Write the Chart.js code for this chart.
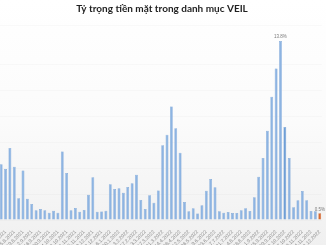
<!DOCTYPE html>
<html>
<head>
<meta charset="utf-8">
<script src="https://cdn.jsdelivr.net/npm/chart.js@4"></script>
<style>
  html, body { margin: 0; padding: 0; overflow: hidden; }
  body { width: 326px; height: 245px; background: linear-gradient(#ffffff 0%, #fbfbfb 50%, #f0f0f0 100%); }
  #wrap { position: absolute; left: -1px; top: 0; width: 326px; height: 245px; }
</style>
</head>
<body>
<div id="wrap"><canvas id="c" width="326" height="245"></canvas></div>
<script>
const title = 'Tỷ trọng tiền mặt trong danh mục VEIL';

const dates = [
  '15.7.2021', '22.7.2021', '29.7.2021', '5.8.2021', '12.8.2021', '19.8.2021', '26.8.2021', '2.9.2021',
  '9.9.2021', '16.9.2021', '23.9.2021', '30.9.2021', '7.10.2021', '14.10.2021', '21.10.2021', '28.10.2021',
  '4.11.2021', '11.11.2021', '18.11.2021', '25.11.2021', '2.12.2021', '9.12.2021', '16.12.2021', '23.12.2021',
  '30.12.2021', '6.1.2022', '13.1.2022', '20.1.2022', '27.1.2022', '3.2.2022', '10.2.2022', '17.2.2022',
  '24.2.2022', '3.3.2022', '10.3.2022', '17.3.2022', '24.3.2022', '31.3.2022', '7.4.2022', '14.4.2022',
  '21.4.2022', '28.4.2022', '5.5.2022', '12.5.2022', '19.5.2022', '26.5.2022', '2.6.2022', '9.6.2022',
  '16.6.2022', '23.6.2022', '30.6.2022', '7.7.2022', '14.7.2022', '21.7.2022', '28.7.2022', '4.8.2022',
  '11.8.2022', '18.8.2022', '25.8.2022', '1.9.2022', '8.9.2022', '15.9.2022', '22.9.2022', '29.9.2022',
  '6.10.2022', '13.10.2022', '20.10.2022', '27.10.2022', '3.11.2022', '10.11.2022', '17.11.2022', '24.11.2022',
  '1.12.2022', '8.12.2022'
];

// cash weight, % of portfolio
const cashPct = [
  4.29, 3.93, 5.55, 4.11, 1.67, 3.82, 1.63, 1.23, 0.75, 0.85, 0.75, 0.56, 0.71, 0.56,
  5.28, 3.62, 0.75, 0.93, 0.63, 0.77, 1.95, 3.29, 0.63, 0.66, 0.71,
  2.76, 2.39, 2.44, 2.10, 2.54, 2.84, 3.48, 1.54, 0.85, 1.91, 1.33, 2.27,
  5.77, 6.58, 8.74, 7.07, 5.18, 1.39, 0.67, 0.91, 0.50, 1.14, 2.25, 3.16, 2.53,
  0.67, 0.56, 0.62, 0.54, 0.54, 0.75, 0.90, 0.69, 1.75, 3.33, 4.78,
  6.88, 9.50, 11.68, 13.8, 7.17, 4.78, 0.98, 1.52, 2.24, 1.52, 0.69, 0.67, 0.52
];

const labelled = [64, 73];
const lastIdx = cashPct.length - 1;

const barColors = cashPct.map((v, i) => (i === lastIdx ? '#d8682f' : i === 65 ? '#6f9fd6' : '#8db4e2'));
const borderColors = cashPct.map((v, i) => (i === lastIdx ? '#c0561f' : '#6e9bd2'));

const valueLabels = {
  id: 'valueLabels',
  afterDatasetsDraw(chart) {
    const ctx = chart.ctx;
    const meta = chart.getDatasetMeta(0);
    ctx.save();
    ctx.font = '4.5px "Liberation Sans"';
    ctx.fillStyle = '#7a7a7a';
    ctx.textAlign = 'center';
    ctx.textBaseline = 'bottom';
    labelled.forEach((i) => {
      const el = meta.data[i];
      ctx.fillText(cashPct[i].toFixed(1) + '%', el.x, el.y - 1.5);
    });
    ctx.restore();
  },
};

new Chart(document.getElementById('c'), {
  type: 'bar',
  data: {
    labels: dates,
    datasets: [
      {
        data: cashPct,
        backgroundColor: barColors,
        borderColor: borderColors,
        borderWidth: 0.5,
        barPercentage: 0.65,
        categoryPercentage: 1,
      },
    ],
  },
  options: {
    responsive: false,
    animation: false,
    layout: { padding: 0 },
    plugins: {
      legend: { display: false },
      tooltip: { enabled: false },
      title: {
        display: true,
        text: title,
        color: '#1f1f1f',
        font: { family: 'Lato', size: 10, weight: 'bold', lineHeight: 1.2 },
        padding: { top: 3, bottom: 10.4 },
      },
    },
    scales: {
      x: {
        grid: { display: false },
        border: { display: false },
        afterFit: (axis) => { axis.height = 25; },
        ticks: {
          autoSkip: false,
          minRotation: 45,
          maxRotation: 45,
          padding: 1,
          color: '#8a8a8a',
          font: { family: 'Liberation Sans', size: 5 },
          callback: (v, i) => (i % 2 === 1 ? dates[i] : ''),
        },
      },
      y: {
        min: 0,
        max: 15,
        border: { display: false },
        grid: { color: 'rgba(0,0,0,0.018)', drawTicks: false },
        ticks: { display: false, stepSize: 2 },
        afterFit: (axis) => { axis.width = 0; },
      },
    },
  },
  plugins: [valueLabels],
});
</script>
</body>
</html>
